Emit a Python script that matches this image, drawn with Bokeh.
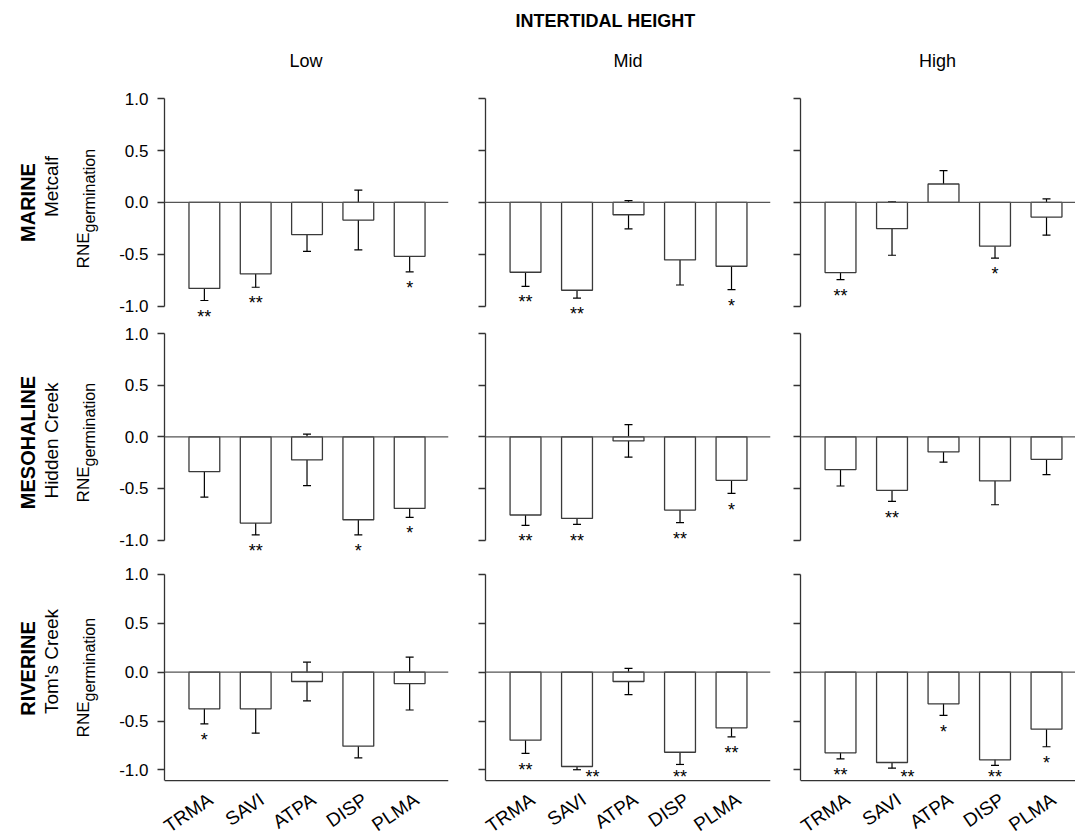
import math
from bokeh.plotting import figure
from bokeh.models import (Range1d, FixedTicker, Span, Whisker, TeeHead, ColumnDataSource,
                          CustomJSTickFormatter, LabelSet)
from bokeh.layouts import row, column
from bokeh.embed import file_html
from bokeh.resources import INLINE
from bokeh.core.properties import value

# ---------------- data ----------------
species = ["TRMA", "SAVI", "ATPA", "DISP", "PLMA"]
heights = ["Low", "Mid", "High"]
sites = ["MARINE", "MESOHALINE", "RIVERINE"]
site_names = ["Metcalf", "Hidden Creek", "Tom's Creek"]
title_text = "INTERTIDAL HEIGHT"
y_ticks = [-1.0, -0.5, 0.0, 0.5, 1.0]

marine_low_mean = [-0.83, -0.69, -0.31, -0.17, -0.52]
marine_low_se = [0.117, 0.129, 0.162, 0.289, 0.150]
marine_low_sig = ["**", "**", "", "", "*"]
marine_mid_mean = [-0.674, -0.848, -0.119, -0.555, -0.616]
marine_mid_se = [0.136, 0.075, 0.136, 0.242, 0.225]
marine_mid_sig = ["**", "**", "", "", "*"]
marine_high_mean = [-0.677, -0.252, 0.178, -0.422, -0.141]
marine_high_se = [0.068, 0.258, 0.129, 0.115, 0.175]
marine_high_sig = ["**", "", "", "*", ""]

meso_low_mean = [-0.337, -0.835, -0.223, -0.803, -0.693]
meso_low_se = [0.246, 0.115, 0.250, 0.147, 0.087]
meso_low_sig = ["", "**", "", "*", "*"]
meso_mid_mean = [-0.757, -0.790, -0.039, -0.709, -0.421]
meso_mid_se = [0.100, 0.058, 0.158, 0.123, 0.127]
meso_mid_sig = ["**", "**", "", "**", "*"]
meso_high_mean = [-0.317, -0.518, -0.146, -0.427, -0.217]
meso_high_se = [0.159, 0.107, 0.099, 0.231, 0.148]
meso_high_sig = ["", "**", "", "", ""]

river_low_mean = [-0.375, -0.375, -0.095, -0.757, -0.116]
river_low_se = [0.154, 0.249, 0.198, 0.119, 0.271]
river_low_sig = ["*", "", "", "", ""]
river_mid_mean = [-0.696, -0.965, -0.095, -0.819, -0.569]
river_mid_se = [0.135, 0.033, 0.134, 0.125, 0.092]
river_mid_sig = ["**", "**", "", "**", "**"]
river_high_mean = [-0.825, -0.924, -0.324, -0.897, -0.583]
river_high_se = [0.062, 0.058, 0.118, 0.057, 0.180]
river_high_sig = ["**", "**", "*", "**", "*"]

panels = [
    [(marine_low_mean, marine_low_se, marine_low_sig),
     (marine_mid_mean, marine_mid_se, marine_mid_sig),
     (marine_high_mean, marine_high_se, marine_high_sig)],
    [(meso_low_mean, meso_low_se, meso_low_sig),
     (meso_mid_mean, meso_mid_se, meso_mid_sig),
     (meso_high_mean, meso_high_se, meso_high_sig)],
    [(river_low_mean, river_low_se, river_low_sig),
     (river_mid_mean, river_mid_se, river_mid_sig),
     (river_high_mean, river_high_se, river_high_sig)],
]

# ---------------- layout / style ----------------
FONT = "Liberation Sans"
AX = "#333333"
PX_PER_CAT = 51.5
XMIN = -0.777
# (figure width, min_border_left, min_border_right, frame width)
col_specs = [(339, 47, 7, 285), (320, 30, 5, 285), (300, 25, 0, 275)]
# (figure height, border top, border bottom, y start, y end)
row_specs = [(246, 8, 6, -1.14, 1.10), (236, 0, 8, -1.14, 1.07), (226, 2, 0, -1.19, 1.102)]
BASE_Y = -1.11        # where the bottom row's horizontal axis line sits
LEFT_W = 116
TOTAL_W = LEFT_W + sum(c[0] for c in col_specs)
HEADER_H = 80
LABEL_H = 50
STAR_GAP_PX = 12.0
STAR_FONT_PX = 18
XLAB_DX_PX = 7.0
XLAB_TOP_PX = 9.0     # anchor of rotated names below the bottom-row figures


def make_panel(r, c):
    means, se, sig = panels[r][c]
    W, bl, br, fw = col_specs[c]
    H, bt, bb, y0, y1 = row_specs[r]
    last = (r == 2)
    p = figure(width=W, height=H, output_backend="svg", toolbar_location=None,
               x_range=Range1d(XMIN, XMIN + fw / PX_PER_CAT), y_range=Range1d(y0, y1),
               min_border_left=bl, min_border_right=br, min_border_top=bt, min_border_bottom=bb,
               x_axis_location=None)
    p.outline_line_color = None
    p.grid.visible = False
    p.background_fill_color = "white"
    p.border_fill_color = "white"

    xs = list(range(len(species)))
    lower = [m - s for m, s in zip(means, se)]
    upper = [m + s for m, s in zip(means, se)]
    src = ColumnDataSource(dict(x=xs, top=means, lower=lower, upper=upper))
    p.vbar(x="x", top="top", bottom=0, width=0.6, source=src,
           fill_color="white", line_color="#3a3a3a", line_width=1.3)
    p.add_layout(Span(location=0, dimension="width", line_color="#555555", line_width=1.3))
    if last:
        p.add_layout(Span(location=BASE_Y, dimension="width", line_color=AX, line_width=1.3))
    p.add_layout(Whisker(base="x", upper="upper", lower="lower", source=src,
                         line_color="black", line_width=1.2,
                         upper_head=TeeHead(size=8, line_color="black", line_width=1.2),
                         lower_head=TeeHead(size=8, line_color="black", line_width=1.2)))

    # significance stars below the error bars
    scale = (H - bt - bb) / (y1 - y0)          # pixels per unit
    gap = STAR_GAP_PX / scale
    shift = 0.23 * STAR_FONT_PX / scale        # glyph sits above the text middle
    sx, sy, st = [], [], []
    for i, s in enumerate(sig):
        if not s:
            continue
        yy = lower[i] - gap
        xx = xs[i]
        if last:
            if lower[i] < -0.96:
                xx = xs[i] + 0.3
            yy = max(yy, -1.035)
        sx.append(xx)
        sy.append(yy - shift)
        st.append(s)
    star_src = ColumnDataSource(dict(x=sx, y=sy, text=st))
    p.add_layout(LabelSet(x="x", y="y", text="text", source=star_src,
                          text_font=value(FONT), text_font_size=value(f"{STAR_FONT_PX}px"),
                          text_align="center", text_baseline="middle", text_color="black"))

    # y axis
    ya = p.yaxis[0]
    ya.ticker = FixedTicker(ticks=y_ticks)
    ya.bounds = (BASE_Y, 1.0) if last else (-1.0, 1.0)
    ya.axis_line_color = AX
    ya.axis_line_width = 1.3
    ya.major_tick_line_color = AX
    ya.major_tick_line_width = 1.3
    ya.major_tick_out = 7
    ya.major_tick_in = 0
    ya.minor_tick_line_color = None
    ya.major_label_standoff = 9
    ya.major_label_text_font = FONT
    ya.major_label_text_font_size = "17px"
    ya.major_label_text_color = "black"
    if c > 0:
        ya.formatter = CustomJSTickFormatter(code="return ''")
    else:
        ya.formatter = CustomJSTickFormatter(code="return tick.toFixed(1)")
    return p


def make_name_strip(c):
    """Rotated species names under the bottom row, on the same x scale."""
    W, bl, br, fw = col_specs[c]
    q = figure(width=W, height=LABEL_H, output_backend="svg", toolbar_location=None,
               x_range=Range1d(XMIN - bl / PX_PER_CAT, XMIN + (fw + br) / PX_PER_CAT),
               y_range=Range1d(0, LABEL_H), x_axis_type=None, y_axis_type=None, min_border=0)
    q.outline_line_color = None
    q.grid.visible = False
    xs = list(range(len(species)))
    q.text(x=[i + XLAB_DX_PX / PX_PER_CAT for i in xs], y=[LABEL_H - XLAB_TOP_PX] * len(xs),
           text=species, angle=0.6, text_font=value(FONT), text_font_size="19px",
           text_align="right", text_baseline="middle", text_color="black")
    return q


# header (coordinates are page pixels)
hdr = figure(width=TOTAL_W, height=HEADER_H, output_backend="svg", toolbar_location=None,
             x_range=Range1d(0, TOTAL_W), y_range=Range1d(HEADER_H, 0),
             x_axis_type=None, y_axis_type=None, min_border=0)
hdr.outline_line_color = None
hdr.grid.visible = False
hdr.text(x=[605], y=[20], text=[title_text], text_font=value(FONT), text_font_size="18px",
         text_font_style="bold", text_align="center", text_baseline="middle", text_color="black")
hdr.text(x=[305.5, 627.5, 937], y=[60, 60, 60], text=heights, text_font=value(FONT),
         text_font_size="18px", text_align="center", text_baseline="middle", text_color="black")

# left row labels (coordinates are page pixels)
rows_h = sum(rs[0] for rs in row_specs) + LABEL_H
lab = figure(width=LEFT_W, height=rows_h, output_backend="svg", toolbar_location=None,
             x_range=Range1d(0, LEFT_W), y_range=Range1d(HEADER_H + rows_h, HEADER_H),
             x_axis_type=None, y_axis_type=None, min_border=0)
lab.outline_line_color = None
lab.grid.visible = False
ang = math.pi / 2
lab.text(x=[27, 27, 27], y=[202, 442, 668], text=sites, angle=ang, text_font=value(FONT),
         text_font_size="20px", text_font_style="bold", text_align="center",
         text_baseline="middle", text_color="black")
lab.text(x=[51, 51, 51], y=[186, 440, 661], text=site_names, angle=ang, text_font=value(FONT),
         text_font_size="19px", text_align="center", text_baseline="middle", text_color="black")
junc = [232, 466, 701]
lab.text(x=[83, 83, 83], y=junc, text=["RNE"] * 3, angle=ang, text_font=value(FONT),
         text_font_size="17px", text_align="right", text_baseline="alphabetic", text_color="black")
lab.text(x=[89, 89, 89], y=junc, text=["germination"] * 3, angle=ang, text_font=value(FONT),
         text_font_size="16px", text_align="left", text_baseline="alphabetic", text_color="black")

grid_rows = []
for r in range(3):
    grid_rows.append(row(*[make_panel(r, c) for c in range(3)], spacing=0))
grid_rows.append(row(*[make_name_strip(c) for c in range(3)], spacing=0))
body = row(lab, column(*grid_rows, spacing=0), spacing=0)
layout = column(hdr, body, spacing=0)

open("out.html", "w").write(file_html(layout, INLINE))
